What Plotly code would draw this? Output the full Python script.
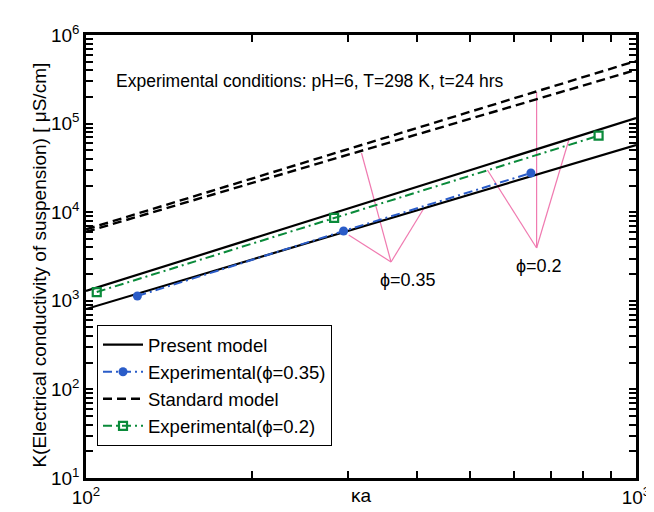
import numpy as np
import plotly.graph_objects as go

# ---------------- data ----------------
ka_model = [100, 1000]
K_present_upper = [1290, 115700]
K_present_lower = [807, 57350]
K_standard_upper = [6400, 509000]
K_standard_lower = [6000, 403000]

ka_exp_035 = [124, 294, 644]
K_exp_035 = [1133, 6130, 27700]

ka_exp_02 = [104.6, 282.6, 855]
K_exp_02 = [1256, 8610, 73000]

x_tick_vals = [100, 1000]
x_tick_text = ["10<sup>2</sup>", "10<sup>3</sup>"]
y_tick_vals = [10, 100, 1000, 10000, 100000, 1000000]
y_tick_text = ["10<sup>1</sup>", "10<sup>2</sup>", "10<sup>3</sup>",
               "10<sup>4</sup>", "10<sup>5</sup>", "10<sup>6</sup>"]

# annotation pointer lines (log10 coordinates: apex -> targets)
phi035_apex = (2.5546, 3.438)
phi035_targets = [(2.5009, 4.668), (2.4776, 3.743), (2.6136, 4.036)]
phi02_apex = (2.8193, 3.596)
phi02_targets = [(2.8193, 5.357), (2.7299, 4.476), (2.8784, 4.826)]

FONT = "Liberation Sans, Arial, sans-serif"
BLUE = "#2a5cc8"
GREEN = "#0a8a3a"
PINK = "#f07ab0"
PHI = "\u03d5"


def minor_vals(decades):
    return [m * 10 ** d for d in decades for m in range(2, 10)]


# major labelled ticks plus unlabelled minor ticks
x_all_vals = x_tick_vals + minor_vals([2])
x_all_text = x_tick_text + [""] * len(minor_vals([2]))
y_all_vals = y_tick_vals + minor_vals([1, 2, 3, 4, 5])
y_all_text = y_tick_text + [""] * len(minor_vals([1, 2, 3, 4, 5]))

fig = go.Figure()

# pink pointer lines
for apex, targets in [(phi035_apex, phi035_targets), (phi02_apex, phi02_targets)]:
    for tx, ty in targets:
        fig.add_trace(go.Scatter(
            x=[10 ** apex[0], 10 ** tx], y=[10 ** apex[1], 10 ** ty],
            mode="lines", line=dict(color=PINK, width=1.2),
            showlegend=False, hoverinfo="skip"))

# present model
fig.add_trace(go.Scatter(x=ka_model, y=K_present_upper, mode="lines",
                         line=dict(color="black", width=2.2),
                         name="Present model", legendgroup="pm"))
fig.add_trace(go.Scatter(x=ka_model, y=K_present_lower, mode="lines",
                         line=dict(color="black", width=2.2),
                         name="Present model", legendgroup="pm", showlegend=False))
# experimental 0.35
fig.add_trace(go.Scatter(x=ka_exp_035, y=K_exp_035, mode="lines+markers",
                         line=dict(color=BLUE, width=2, dash="9px,4px,2px,4px"),
                         marker=dict(symbol="circle", size=9, color=BLUE),
                         name="Experimental(" + PHI + "=0.35)"))
# standard model
fig.add_trace(go.Scatter(x=ka_model, y=K_standard_upper, mode="lines",
                         line=dict(color="black", width=2.4, dash="9px,5px"),
                         name="Standard model", legendgroup="sm"))
fig.add_trace(go.Scatter(x=ka_model, y=K_standard_lower, mode="lines",
                         line=dict(color="black", width=2.4, dash="9px,5px"),
                         name="Standard model", legendgroup="sm", showlegend=False))
# experimental 0.2
fig.add_trace(go.Scatter(x=ka_exp_02, y=K_exp_02, mode="lines+markers",
                         line=dict(color=GREEN, width=2, dash="9px,4px,2px,4px"),
                         marker=dict(symbol="square-open", size=8, color=GREEN,
                                     line=dict(width=2.2, color=GREEN)),
                         name="Experimental(" + PHI + "=0.2)"))

axis_common = dict(
    type="log", showgrid=False, zeroline=False,
    showline=True, linecolor="black", linewidth=2.5, mirror="allticks",
    ticks="inside", ticklen=7, tickwidth=2, tickcolor="black",
    tickfont=dict(family=FONT, size=19, color="black"),
)

fig.update_xaxes(**axis_common, range=[2, 3], tickmode="array",
                 tickvals=x_all_vals, ticktext=x_all_text)
fig.update_yaxes(**axis_common, range=[1, 6], tickmode="array",
                 tickvals=y_all_vals, ticktext=y_all_text)

annotations = [
    dict(text="Experimental conditions: pH=6, T=298 K, t=24 hrs",
         x=2.408, y=5.481, xref="x", yref="y", showarrow=False,
         font=dict(family=FONT, size=17.5, color="black")),
    dict(text=PHI + "=0.35", x=2.585, y=3.235, xref="x", yref="y",
         showarrow=False, font=dict(family=FONT, size=18, color="black")),
    dict(text=PHI + "=0.2", x=2.8229, y=3.393, xref="x", yref="y",
         showarrow=False, font=dict(family=FONT, size=18, color="black")),
    dict(text="\u03baa", x=0.501, y=-0.068, xref="paper", yref="paper",
         showarrow=False, font=dict(family=FONT, size=19, color="black")),
    dict(text="K(Electrical conductivity of suspension) [ \u03bcS/cm]",
         x=-0.107, y=0.481, xref="paper", yref="paper", textangle=-90,
         showarrow=False, font=dict(family=FONT, size=19, color="black")),
]

fig.update_layout(
    width=654, height=512,
    margin=dict(l=78, r=17, t=27, b=42),
    paper_bgcolor="white", plot_bgcolor="white",
    font=dict(family=FONT, color="black"),
    annotations=annotations,
    legend=dict(x=0.02, y=0.345, xanchor="left", yanchor="top",
                bgcolor="white", bordercolor="black", borderwidth=1,
                font=dict(family=FONT, size=18.5, color="black"),
                tracegroupgap=0, itemwidth=40),
)

fig.write_html("out.html")
